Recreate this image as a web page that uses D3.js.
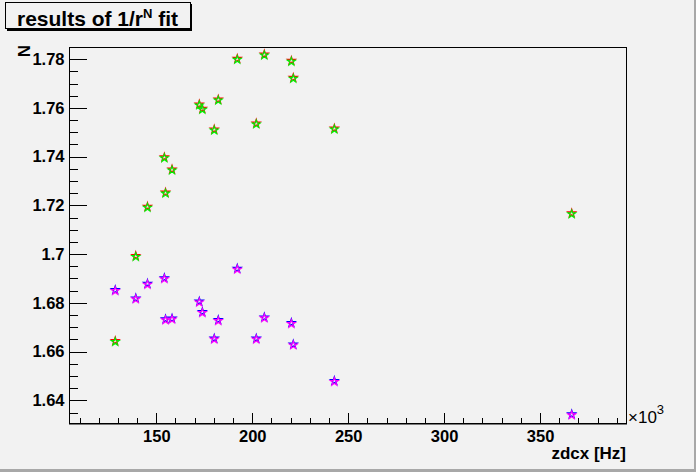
<!DOCTYPE html>
<html>
<head>
<meta charset="utf-8">
<script src="https://cdn.jsdelivr.net/npm/d3@7"></script>
<style>
  body { margin: 0; background: #f2f2f2; }
  svg { display: block; font-family: "Liberation Sans", Arial, Helvetica, sans-serif; }
  .axis path { display: none; }
  .axis line { stroke: #000; shape-rendering: crispEdges; }
  .axis text { font-size: 16.5px; font-weight: bold; fill: #000; }
</style>
</head>
<body>
<div id="chart"></div>
<script>
// zdcx in units of 10^3 Hz, shared by all four series
var zdcx = [128.6, 139.3, 145.4, 154.2, 154.8, 158.2, 172.4, 174.0, 180.2,
            182.3, 192.2, 202.1, 206.3, 220.4, 221.4, 242.8, 366.5];

// fitted exponent N, upper pair of series
var red_n = [1.6644, 1.6993, 1.7195, 1.7398, 1.7253, 1.7348, 1.7615, 1.7597, 1.7512,
             1.7635, 1.7802, 1.7537, 1.7820, 1.7794, 1.7724, 1.7516, 1.7168];
var green_n = [1.6640, 1.6989, 1.7191, 1.7394, 1.7249, 1.7344, 1.7611, 1.7593, 1.7508,
               1.7631, 1.7798, 1.7533, 1.7816, 1.7790, 1.7720, 1.7512, 1.7164];

// lower pair of series
var blue_n = [1.6853, 1.6819, 1.6879, 1.6902, 1.6733, 1.6736, 1.6806, 1.6763, 1.6654,
              1.6730, 1.6941, 1.6654, 1.6741, 1.6718, 1.6630, 1.6480, 1.6343];
var magenta_n = [1.6849, 1.6815, 1.6875, 1.6898, 1.6729, 1.6732, 1.6802, 1.6759, 1.6650,
                 1.6726, 1.6937, 1.6650, 1.6737, 1.6714, 1.6626, 1.6476, 1.6339];

var x_ticks = [150, 200, 250, 300, 350];
var y_ticks = [1.64, 1.66, 1.68, 1.7, 1.72, 1.74, 1.76, 1.78];

var series = [
  {name: "red", color: "#ff0000", values: red_n},
  {name: "green", color: "#00ee00", values: green_n},
  {name: "blue", color: "#0000ff", values: blue_n},
  {name: "magenta", color: "#ff00ff", values: magenta_n}
];

var width = 696, height = 472;
var frame = {left: 69, top: 47, right: 626, bottom: 423};

var svg = d3.select("#chart")
  .append("svg")
  .attr("width", width)
  .attr("height", height);

svg.append("rect")
  .attr("width", width)
  .attr("height", height)
  .style("fill", "#f2f2f2");

// canvas bevel on right and bottom
svg.append("rect")
  .attr("x", width - 2).attr("y", 0)
  .attr("width", 2).attr("height", height)
  .style("fill", "#a8a8a8");
svg.append("rect")
  .attr("x", 0).attr("y", height - 3)
  .attr("width", width).attr("height", 3)
  .style("fill", "#a8a8a8");

var x = d3.scaleLinear()
  .domain([104.5, 394.8])
  .range([frame.left, frame.right]);

var y = d3.scaleLinear()
  .domain([1.6307, 1.785])
  .range([frame.bottom, frame.top]);

// frame
svg.append("rect")
  .attr("x", frame.left + 0.5)
  .attr("y", frame.top + 0.5)
  .attr("width", frame.right - frame.left)
  .attr("height", frame.bottom - frame.top)
  .style("fill", "none")
  .style("stroke", "#000")
  .style("stroke-width", 1);

// minor ticks first, then major ticks with labels
svg.append("g")
  .attr("class", "axis")
  .attr("transform", "translate(0," + (frame.bottom + 0.5) + ")")
  .call(d3.axisBottom(x).tickValues(x.ticks(29)).tickSize(-5.5).tickFormat(""));

svg.append("g")
  .attr("class", "axis")
  .attr("transform", "translate(0," + (frame.bottom + 0.5) + ")")
  .call(d3.axisBottom(x).tickValues(x_ticks).tickSize(-11).tickPadding(7)
        .tickFormat(function(d){ return String(d); }));

svg.append("g")
  .attr("class", "axis")
  .attr("transform", "translate(" + (frame.left + 0.5) + ",0)")
  .call(d3.axisLeft(y).tickValues(y.ticks(30)).tickSize(-8.5).tickFormat(""));

svg.append("g")
  .attr("class", "axis")
  .attr("transform", "translate(" + (frame.left + 0.5) + ",0)")
  .call(d3.axisLeft(y).tickValues(y_ticks).tickSize(-17).tickPadding(5)
        .tickFormat(function(d){ return String(d); }));

// heavier bottom axis line
svg.append("line")
  .attr("x1", frame.left).attr("x2", frame.right + 1)
  .attr("y1", frame.bottom + 1).attr("y2", frame.bottom + 1)
  .style("stroke", "#000")
  .style("stroke-width", 1);

// markers: small open stars
var star = d3.symbol().type(d3.symbolStar).size(20);

var groups = svg.selectAll("g.series")
  .data(series)
  .enter()
  .append("g")
  .attr("class", "series")
  .attr("id", function(s){ return "series_" + s.name; });

groups.selectAll("path")
  .data(function(s){
    return s.values.map(function(v, i){ return {x: zdcx[i], y: v, color: s.color}; });
  })
  .enter()
  .append("path")
  .attr("d", star)
  .attr("transform", function(d){
    return "translate(" + [x(d.x), y(d.y)] + ")";
  })
  .style("fill", "none")
  .style("stroke", function(d){ return d.color; })
  .style("stroke-width", 1.1);

// axis titles
svg.append("text")
  .attr("x", frame.right)
  .attr("y", 459)
  .attr("text-anchor", "end")
  .style("font-size", "17px")
  .style("font-weight", "bold")
  .text("zdcx [Hz]");

var mult = svg.append("text")
  .attr("x", 628)
  .attr("y", 423)
  .style("font-size", "17px");
mult.append("tspan").text("\u00d710");
mult.append("tspan")
  .attr("dy", -9)
  .style("font-size", "13px")
  .text("3");

svg.append("text")
  .attr("transform", "translate(30,45) rotate(-90)")
  .attr("text-anchor", "end")
  .style("font-size", "17px")
  .style("font-weight", "bold")
  .text("N");

// title box
svg.append("rect")
  .attr("x", 7).attr("y", 4)
  .attr("width", 185).attr("height", 27)
  .style("fill", "#000");
svg.append("rect")
  .attr("x", 5.5).attr("y", 2.5)
  .attr("width", 185).attr("height", 26)
  .style("fill", "#f2f2f2")
  .style("stroke", "#000")
  .style("stroke-width", 1);

var title = svg.append("text")
  .attr("x", 17)
  .attr("y", 26)
  .style("font-size", "21px")
  .style("font-weight", "bold");
title.append("tspan").text("results of 1/r");
title.append("tspan")
  .attr("dy", -8)
  .style("font-size", "13px")
  .text("N");
title.append("tspan")
  .attr("dy", 8)
  .text(" fit");
</script>
</body>
</html>
